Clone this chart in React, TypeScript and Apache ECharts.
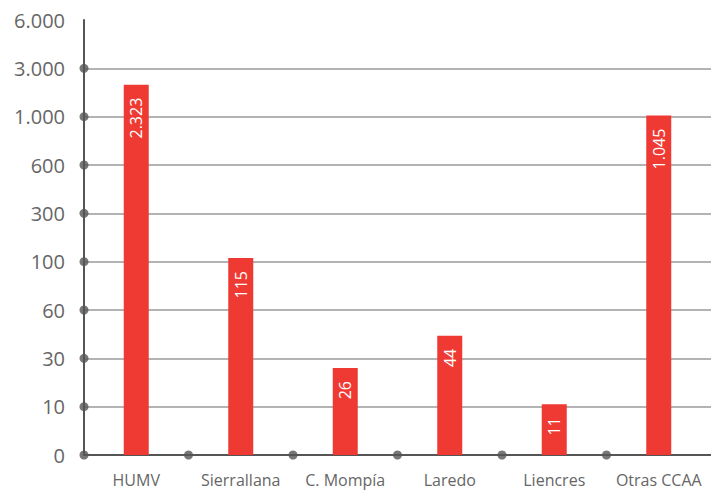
import React, { useEffect, useRef } from "react";
import * as echarts from "echarts";

const categories = ["HUMV", "Sierrallana", "C. Mompía", "Laredo", "Liencres", "Otras CCAA"];
const values = [2323, 115, 26, 44, 11, 1045];
const tickValues = [0, 10, 30, 60, 100, 300, 600, 1000, 3000, 6000];
const tickLabels = ["0", "10", "30", "60", "100", "300", "600", "1.000", "3.000", "6.000"];

// piecewise scale: each tick interval takes one equal step on the axis
function toAxis(v: number): number {
  for (let i = 0; i < tickValues.length - 1; i++) {
    const a = tickValues[i];
    const b = tickValues[i + 1];
    if (v >= a && v <= b) return i + (v - a) / (b - a);
  }
  return tickValues.length - 1;
}

function fmt(v: number): string {
  return String(v).replace(/\B(?=(\d{3})+(?!\d))/g, ".");
}

const FONT = "'Open Sans', sans-serif";
const GREY = "#555";
const LABEL_GREY = "#666";

export default function App() {
  const ref = useRef<HTMLDivElement>(null);
  useEffect(() => {
    if (!ref.current) return;
    const chart = echarts.init(ref.current, undefined, { renderer: "svg" });
    const yDots = tickLabels.slice(0, -1).map((_, i) => [0, i]);
    const xDots = categories.slice(1).map((_, i) => [i + 1, 0]);
    chart.setOption({
      animation: false,
      grid: { left: 84, top: 20, width: 632, height: 435, containLabel: false },
      xAxis: [
        {
          type: "category",
          data: categories,
          boundaryGap: true,
          axisTick: { show: false },
          axisLine: { lineStyle: { color: GREY, width: 2 } },
          axisLabel: {
            interval: 0,
            color: LABEL_GREY,
            fontSize: 16,
            fontFamily: FONT,
            margin: 17,
          },
          splitLine: { show: false },
        },
        {
          type: "value",
          min: 0,
          max: 6,
          show: false,
        },
      ],
      yAxis: {
        type: "value",
        min: 0,
        max: tickValues.length - 1,
        interval: 1,
        axisLine: { show: true, lineStyle: { color: GREY, width: 2 } },
        axisTick: { show: false },
        axisLabel: {
          color: LABEL_GREY,
          fontSize: 20,
          fontFamily: FONT,
          margin: 19,
          formatter: (v: number) => tickLabels[Math.round(v)] ?? "",
        },
        splitLine: {
          show: true,
          showMaxLine: false,
          lineStyle: { color: "#9a9a9a", width: 1.5 },
        },
      },
      series: [
        {
          type: "bar",
          xAxisIndex: 0,
          barWidth: 25,
          data: values.map((v) => toAxis(v)),
          itemStyle: { color: "#ee3a33" },
          label: {
            show: true,
            position: "insideTop",
            rotate: 90,
            align: "right",
            verticalAlign: "middle",
            distance: 13,
            color: "#fff",
            fontSize: 16,
            fontFamily: FONT,
            formatter: (p: any) => fmt(values[p.dataIndex]),
          },
          z: 2,
        },
        {
          type: "scatter",
          xAxisIndex: 1,
          data: [...yDots, ...xDots],
          symbol: "circle",
          symbolSize: 9,
          itemStyle: { color: GREY },
          silent: true,
          z: 5,
        },
      ],
    });
    return () => chart.dispose();
  }, []);
  return (
    <div
      ref={ref}
      style={{ position: "fixed", left: 0, top: 0, width: 711, height: 495, background: "#fff" }}
    />
  );
}
